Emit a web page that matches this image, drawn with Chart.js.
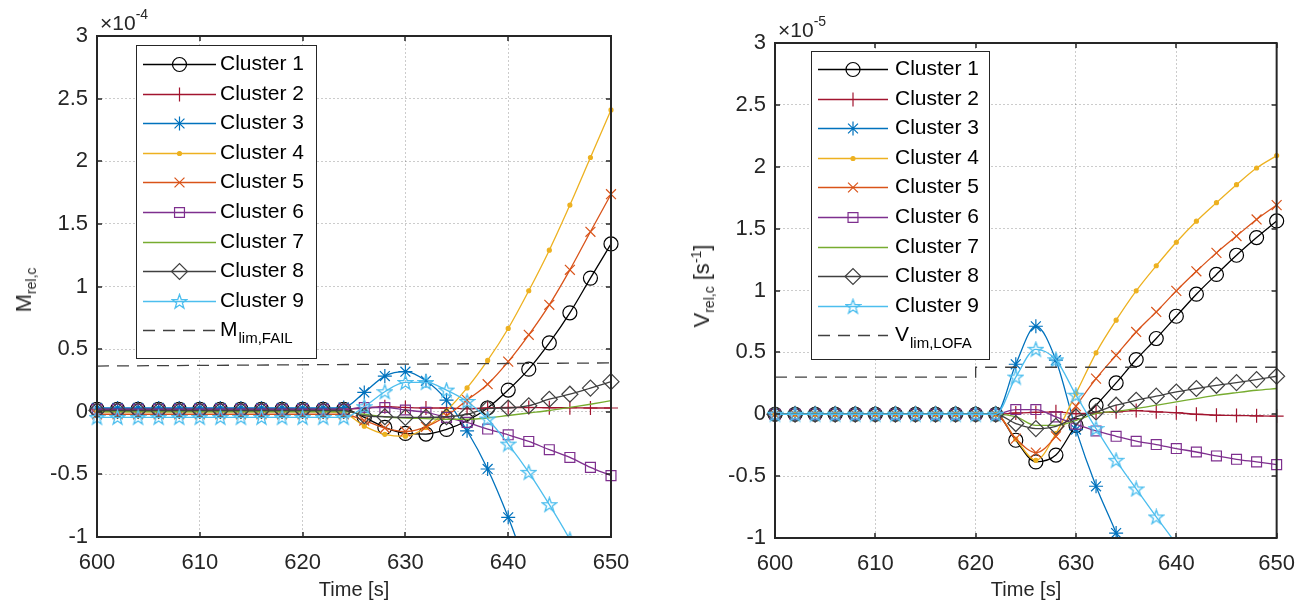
<!DOCTYPE html>
<html>
<head>
<meta charset="utf-8">
<script src="https://cdn.jsdelivr.net/npm/chart.js@4.4.0/dist/chart.umd.min.js"></script>
<style>
  html, body { margin: 0; padding: 0; background: #fff; }
  body { width: 1308px; height: 605px; position: relative; overflow: hidden; font-family: "Liberation Sans", Arial, sans-serif; }
  .panel { position: absolute; top: 0; width: 654px; height: 605px; }
  .lbl { position: absolute; color: #262626; white-space: nowrap; line-height: 20px; }
  .rot { transform: translate(-50%, -50%) rotate(-90deg); }
  sub, sup { font-size: 14px; line-height: 0; }
</style>
</head>
<body>
<div class="panel" style="left:0"><canvas id="left"></canvas></div>
<div class="panel" style="left:654px"><canvas id="right"></canvas></div>

<div class="lbl" style="left:100px; top:13px; font-size:21px">&times;10<sup style="position:relative; top:-3px">-4</sup></div>
<div class="lbl" style="left:778px; top:20px; font-size:21px">&times;10<sup style="position:relative; top:-3px">-5</sup></div>
<div class="lbl" style="left:354px; top:579px; font-size:20px; transform:translateX(-50%)">Time [s]</div>
<div class="lbl" style="left:1026px; top:579px; font-size:20px; transform:translateX(-50%)">Time [s]</div>
<div class="lbl rot" style="left:24px; top:290px; font-size:22px">M<sub>rel,c</sub></div>
<div class="lbl rot" style="left:702px; top:286px; font-size:22px">V<sub>rel,c</sub> [s<sup>-1</sup>]</div>

<script>
// ---------------- data ----------------
const times = [600, 602, 604, 606, 608, 610, 612, 614, 616, 618, 620, 622, 624,
               626, 628, 630, 632, 634, 636, 638, 640, 642, 644, 646, 648, 650];

const clusterNames = ['Cluster 1', 'Cluster 2', 'Cluster 3', 'Cluster 4', 'Cluster 5',
                      'Cluster 6', 'Cluster 7', 'Cluster 8', 'Cluster 9'];

// left panel: M_rel,c  (x 1e-4)
const mC1 = [0.02, 0.02, 0.02, 0.02, 0.02, 0.02, 0.02, 0.02, 0.02, 0.02, 0.02, 0.02, 0.02,
             -0.045, -0.125, -0.173, -0.178, -0.141, -0.072, 0.03, 0.173, 0.34, 0.55, 0.79, 1.067, 1.34];
const mC2 = [0.02, 0.02, 0.02, 0.02, 0.02, 0.02, 0.02, 0.02, 0.02, 0.02, 0.02, 0.02, 0.02,
             0.03, 0.04, 0.034, 0.03, 0.03, 0.025, 0.03, 0.034, 0.034, 0.032, 0.032, 0.03, 0.03];
const mC3 = [0.03, 0.03, 0.03, 0.03, 0.03, 0.03, 0.03, 0.03, 0.03, 0.03, 0.03, 0.03, 0.034,
             0.154, 0.285, 0.32, 0.247, 0.093, -0.152, -0.457, -0.843, -1.29, null, null, null, null];
const mC4 = [0, 0, 0, 0, 0, 0, 0, 0, 0, 0, 0, 0, -0.01,
             -0.115, -0.18, -0.195, -0.125, 0.008, 0.19, 0.41, 0.665, 0.966, 1.29, 1.65, 2.03, 2.41];
const mC5 = [-0.02, -0.02, -0.02, -0.02, -0.02, -0.02, -0.02, -0.02, -0.02, -0.02, -0.02, -0.02, -0.02,
             -0.07, -0.13, -0.157, -0.12, -0.032, 0.093, 0.22, 0.4, 0.614, 0.854, 1.133, 1.437, 1.737];
const mC6 = [0.02, 0.02, 0.02, 0.02, 0.02, 0.02, 0.02, 0.02, 0.02, 0.02, 0.02, 0.02, 0.02,
             0.034, 0.034, 0.014, -0.005, -0.045, -0.085, -0.138, -0.184, -0.237, -0.303, -0.365, -0.444, -0.51];
const mC7 = [0, 0, 0, 0, 0, 0, 0, 0, 0, 0, 0, 0, 0,
             -0.02, -0.04, -0.05, -0.055, -0.06, -0.06, -0.05, -0.03, -0.01, 0.01, 0.035, 0.06, 0.088];
const mC8 = [0.01, 0.01, 0.01, 0.01, 0.01, 0.01, 0.01, 0.01, 0.01, 0.01, 0.01, 0.01, 0.01,
             -0.032, -0.04, -0.045, -0.045, -0.04, -0.02, 0.025, 0.03, 0.048, 0.1, 0.14, 0.189, 0.24];
const mC9 = [-0.045, -0.045, -0.045, -0.045, -0.045, -0.045, -0.045, -0.045, -0.045, -0.045, -0.045, -0.045, -0.045,
             0.04, 0.16, 0.234, 0.234, 0.173, 0.082, -0.058, -0.258, -0.484, -0.742, -1.02, -1.33, null];
const mLimTimes = [600, 650];
const mLimVals = [0.365, 0.39];

// right panel: V_rel,c  (x 1e-5)
const vC1 = [0, 0, 0, 0, 0, 0, 0, 0, 0, 0, 0, 0, -0.21,
             -0.385, -0.33, -0.09, 0.073, 0.253, 0.442, 0.612, 0.792, 0.97, 1.13, 1.285, 1.428, 1.562];
const vC2 = [0, 0, 0, 0, 0, 0, 0, 0, 0, 0, 0, 0, 0.01,
             0.015, 0.02, 0.005, 0.01, 0.02, 0.03, 0.02, 0.012, 0, -0.008, -0.01, -0.013, -0.015];
const vC3 = [0, 0, 0, 0, 0, 0, 0, 0, 0, 0, 0, 0, 0.404,
             0.711, 0.437, -0.124, -0.582, -0.96, -1.4, null, null, null, null, null, null, null];
const vC4 = [0, 0, 0, 0, 0, 0, 0, 0, 0, 0, 0, 0, -0.2,
             -0.372, -0.156, 0.167, 0.496, 0.76, 0.997, 1.2, 1.39, 1.56, 1.71, 1.855, 1.99, 2.09];
const vC5 = [0, 0, 0, 0, 0, 0, 0, 0, 0, 0, 0, 0, -0.197,
             -0.31, -0.178, 0.065, 0.288, 0.477, 0.665, 0.827, 0.997, 1.155, 1.304, 1.44, 1.574, 1.69];
const vC6 = [0, 0, 0, 0, 0, 0, 0, 0, 0, 0, 0, 0, 0.038,
             0.038, -0.022, -0.081, -0.135, -0.178, -0.218, -0.245, -0.277, -0.305, -0.337, -0.364, -0.385, -0.407];
const vC7 = [0, 0, 0, 0, 0, 0, 0, 0, 0, 0, 0, 0, -0.02,
             -0.09, -0.09, -0.05, 0.005, 0.024, 0.046, 0.073, 0.1, 0.127, 0.154, 0.175, 0.194, 0.208];
const vC8 = [0, 0, 0, 0, 0, 0, 0, 0, 0, 0, 0, 0, -0.075,
             -0.116, -0.097, -0.022, 0.019, 0.073, 0.113, 0.146, 0.18, 0.208, 0.234, 0.256, 0.28, 0.307];
const vC9 = [0, 0, 0, 0, 0, 0, 0, 0, 0, 0, 0, 0, 0.30,
             0.525, 0.44, 0.154, -0.116, -0.372, -0.604, -0.83, -1.05, -1.3, null, null, null, null];
const vLimTimes = [600, 620, 620, 650];
const vLimVals = [0.30, 0.30, 0.38, 0.38];

const yTicks = [-1, -0.5, 0, 0.5, 1, 1.5, 2, 2.5, 3];

// ---------------- styles ----------------
const FONT = '"Liberation Sans", Arial, sans-serif';
const colors = ['#000000', '#A2142F', '#0072BD', '#EDB120', '#D95319',
                '#7E2F8E', '#77AC30', '#404040', '#4DBEEE'];

// pentagram marker for cluster 9
function makePentagram(color) {
  const c = document.createElement('canvas');
  c.width = 17; c.height = 17;
  const g = c.getContext('2d');
  g.strokeStyle = color;
  g.lineWidth = 1.3;
  g.beginPath();
  for (let k = 0; k < 10; k++) {
    const r = k % 2 === 0 ? 7.5 : 3.0;
    const a = -Math.PI / 2 + k * Math.PI / 5;
    const px = 8.5 + r * Math.cos(a), py = 9 + r * Math.sin(a);
    if (k === 0) g.moveTo(px, py); else g.lineTo(px, py);
  }
  g.closePath();
  g.stroke();
  return c;
}

const markers = ['circle', 'cross', 'star', 'circle', 'crossRot', 'rect', 'circle', 'rectRot', makePentagram(colors[8])];
const radii = [7, 7, 7, 2, 7, 7, 0, 8, 8];

function buildSets(series, limT, limV, limMain, limSub) {
  const sets = series.map((vals, i) => ({
    label: clusterNames[i],
    data: times.map((t, k) => ({ x: t, y: vals[k] })),
    borderColor: colors[i],
    borderWidth: 1.3,
    pointStyle: markers[i],
    pointRadius: radii[i],
    pointBorderColor: colors[i],
    pointBackgroundColor: i === 3 ? colors[i] : 'rgba(0,0,0,0)',
    pointBorderWidth: 1.2,
    cubicInterpolationMode: 'monotone',
    spanGaps: false,
    clip: { left: 10, right: 10, top: 0, bottom: 0 },
    order: 10 - i,
  }));
  sets.push({
    label: limMain,
    sub: limSub,
    data: limT.map((t, k) => ({ x: t, y: limV[k] })),
    borderColor: '#404040',
    borderWidth: 1.3,
    borderDash: [12, 8],
    pointRadius: 0,
    order: 0,
  });
  return sets;
}

// box + inward ticks like MATLAB axes
const framePlugin = {
  id: 'frame',
  afterDatasetsDraw(chart) {
    const { ctx, chartArea: a, scales } = chart;
    ctx.save();
    ctx.strokeStyle = '#262626';
    ctx.lineWidth = 2;
    ctx.strokeRect(a.left, a.top, a.right - a.left, a.bottom - a.top);
    ctx.lineWidth = 1.5;
    ctx.beginPath();
    scales.x.ticks.forEach(t => {
      const px = Math.round(scales.x.getPixelForValue(t.value));
      ctx.moveTo(px, a.bottom); ctx.lineTo(px, a.bottom - 5);
      ctx.moveTo(px, a.top); ctx.lineTo(px, a.top + 5);
    });
    scales.y.ticks.forEach(t => {
      const py = Math.round(scales.y.getPixelForValue(t.value));
      ctx.moveTo(a.left, py); ctx.lineTo(a.left + 5, py);
      ctx.moveTo(a.right, py); ctx.lineTo(a.right - 5, py);
    });
    ctx.stroke();
    ctx.restore();
  }
};

// MATLAB style legend: line sample with marker in the middle
const boxLegend = {
  id: 'boxLegend',
  afterDraw(chart, args, o) {
    const ctx = chart.ctx;
    const sets = chart.data.datasets;
    ctx.save();
    ctx.fillStyle = '#fff';
    ctx.fillRect(o.x, o.y, o.w, o.h);
    ctx.strokeStyle = '#262626';
    ctx.lineWidth = 1;
    ctx.strokeRect(o.x + 0.5, o.y + 0.5, o.w, o.h);
    sets.forEach((ds, i) => {
      const cy = Math.round(o.y0 + i * o.dy) + 0.5;
      ctx.strokeStyle = ds.borderColor;
      ctx.lineWidth = 1.3;
      ctx.setLineDash(ds.borderDash || []);
      ctx.beginPath();
      ctx.moveTo(o.x1, cy); ctx.lineTo(o.x2, cy);
      ctx.stroke();
      ctx.setLineDash([]);
      if (ds.pointRadius > 0) {
        ctx.fillStyle = ds.pointBackgroundColor;
        ctx.strokeStyle = ds.pointBorderColor;
        ctx.lineWidth = 1.2;
        Chart.helpers.drawPoint(ctx, { pointStyle: ds.pointStyle, radius: ds.pointRadius, borderWidth: 1.2, rotation: 0 },
          (o.x1 + o.x2) / 2, cy);
      }
      ctx.fillStyle = '#000';
      ctx.textBaseline = 'middle';
      ctx.font = '21px ' + FONT;
      ctx.fillText(ds.label, o.tx, cy);
      if (ds.sub) {
        const w = ctx.measureText(ds.label).width;
        ctx.font = '15px ' + FONT;
        ctx.fillText(ds.sub, o.tx + w + 1, cy + 8);
      }
    });
    ctx.restore();
  }
};

function makeChart(id, sets, pad, yWidth, xHeight, legendOpts) {
  return new Chart(document.getElementById(id), {
    type: 'line',
    data: { datasets: sets },
    plugins: [framePlugin, boxLegend],
    options: {
      responsive: true,
      maintainAspectRatio: false,
      animation: false,
      layout: { padding: pad },
      plugins: {
        legend: { display: false },
        tooltip: { enabled: false },
        boxLegend: legendOpts,
      },
      scales: {
        x: {
          type: 'linear', min: 600, max: 650,
          ticks: { stepSize: 10, color: '#262626', font: { size: 22, family: FONT }, padding: 13, maxRotation: 0 },
          grid: { color: 'rgba(0,0,0,0.2)', drawTicks: false },
          border: { display: false, dash: [2, 2] },
          afterFit: s => { s.height = xHeight; },
        },
        y: {
          min: -1, max: 3,
          afterBuildTicks: s => { s.ticks = yTicks.map(v => ({ value: v })); },
          ticks: { color: '#262626', font: { size: 22, family: FONT }, padding: 9, callback: v => String(v) },
          grid: { color: 'rgba(0,0,0,0.2)', drawTicks: false },
          border: { display: false, dash: [2, 2] },
          afterFit: s => { s.width = yWidth; },
        },
      },
    },
  });
}

makeChart('left',
  buildSets([mC1, mC2, mC3, mC4, mC5, mC6, mC7, mC8, mC9], mLimTimes, mLimVals, 'M', 'lim,FAIL'),
  { top: 36, right: 43, left: 0, bottom: 0 }, 97, 68,
  { x: 136, y: 45, w: 180, h: 313, y0: 64, dy: 29.6, x1: 143, x2: 216, tx: 220 });

makeChart('right',
  buildSets([vC1, vC2, vC3, vC4, vC5, vC6, vC7, vC8, vC9], vLimTimes, vLimVals, 'V', 'lim,LOFA'),
  { top: 43, right: 31, left: 0, bottom: 0 }, 121, 67,
  { x: 157, y: 51, w: 178, h: 308, y0: 69, dy: 29.6, x1: 164, x2: 234, tx: 241 });
</script>
</body>
</html>
